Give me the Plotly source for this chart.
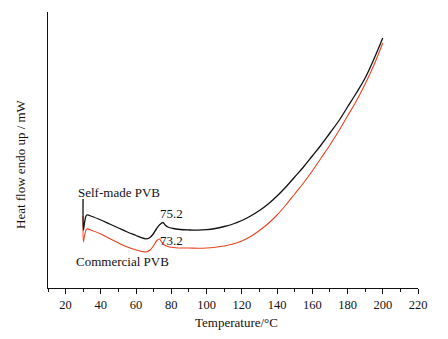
import plotly.graph_objects as go

# Temperature (°C)
temp_self = [29.9, 30.1, 30.8, 32, 35, 40, 45, 50, 55, 60, 63, 65.5, 67.5, 69.5, 71.5, 73.5, 75.2, 76.5, 78, 81, 85,
             90, 95, 100, 105, 110, 115, 120, 125, 130, 135, 140, 145, 150, 155, 160, 165, 170, 175, 180, 185, 190, 195, 200]
heat_self = [89, 58, 66, 73, 71.5, 68, 64, 60, 56, 52.5, 50.3, 49.2, 50, 53.5, 59, 63.5, 65.5, 63, 61, 59.5, 58.5,
             58, 57.8, 58.3, 59.5, 61.5, 64, 67.5, 72, 77.5, 84, 92, 101, 111, 121, 132, 143, 155, 167, 181, 195, 210, 229, 250]

temp_comm = [29.9, 30.1, 30.8, 32, 35, 40, 45, 50, 55, 60, 63.5, 66, 68, 70, 71.8, 73.2, 74.5, 76, 79, 84,
             90, 95, 100, 105, 110, 115, 120, 125, 130, 135, 140, 145, 150, 155, 160, 165, 170, 175, 180, 185, 190, 195, 200]
heat_comm = [72, 46, 53, 59, 57.5, 54, 49.5, 45, 41, 38, 36.5, 36.2, 38, 42.5, 47.5, 49, 46, 43, 41, 40,
             40, 39.8, 40, 40.8, 42, 44, 47, 51.5, 57.5, 64.5, 73, 83, 94, 105, 117, 130, 143, 157, 172, 187, 204, 223, 245]

x_ticks = [20, 40, 60, 80, 100, 120, 140, 160, 180, 200, 220]

font_family = "Liberation Serif"

fig = go.Figure()
fig.add_trace(go.Scatter(x=temp_comm, y=heat_comm, mode="lines",
                         line=dict(color="#e8431f", width=1.1, shape="spline", smoothing=1.0)))
fig.add_trace(go.Scatter(x=temp_self, y=heat_self, mode="lines",
                         line=dict(color="#111111", width=1.3, shape="spline", smoothing=1.0)))

# plot area in window pixels: left 48, right 418, top 12, bottom 288
PL, PR, PT, PB = 48, 418, 12, 288


def px(x, y):
    return (x - PL) / (PR - PL), (PB - y) / (PB - PT)


ann = [
    (119, 192, "Self-made PVB", 0),
    (171, 213, "75.2", 0),
    (171, 240, "73.2", 0),
    (122, 261, "Commercial PVB", 0),
    (20, 164, "Heat flow endo up / mW", -90),
    (236, 322, "Temperature/°C", 0),
]
annotations = []
for x, y, t, ang in ann:
    ax, ay = px(x, y)
    annotations.append(dict(x=ax, y=ay, xref="paper", yref="paper", text=t, showarrow=False, textangle=ang,
                            font=dict(family=font_family, size=13, color="#111111"),
                            xanchor="center", yanchor="middle"))

# page body has an 8px default margin, so compensate
fig.update_layout(
    width=440, height=331,
    margin=dict(l=40, r=30, t=4, b=51),
    paper_bgcolor="white", plot_bgcolor="white",
    showlegend=False,
    annotations=annotations,
    font=dict(family=font_family, size=12, color="#111111"),
)
fig.update_xaxes(range=[10, 220], tickvals=x_ticks, ticks="outside", ticklen=5, tickwidth=1, tickcolor="#111",
                 showline=True, linecolor="#111", linewidth=1.2, showgrid=False, zeroline=False,
                 minor=dict(ticks="outside", ticklen=3, tickcolor="#111", dtick=10, tick0=10),
                 tickfont=dict(family=font_family, size=12.5, color="#111"))
fig.update_yaxes(range=[0, 276], showticklabels=False, ticks="", showline=True, linecolor="#111",
                 linewidth=1.2, showgrid=False, zeroline=False)

fig.write_html("out.html")
